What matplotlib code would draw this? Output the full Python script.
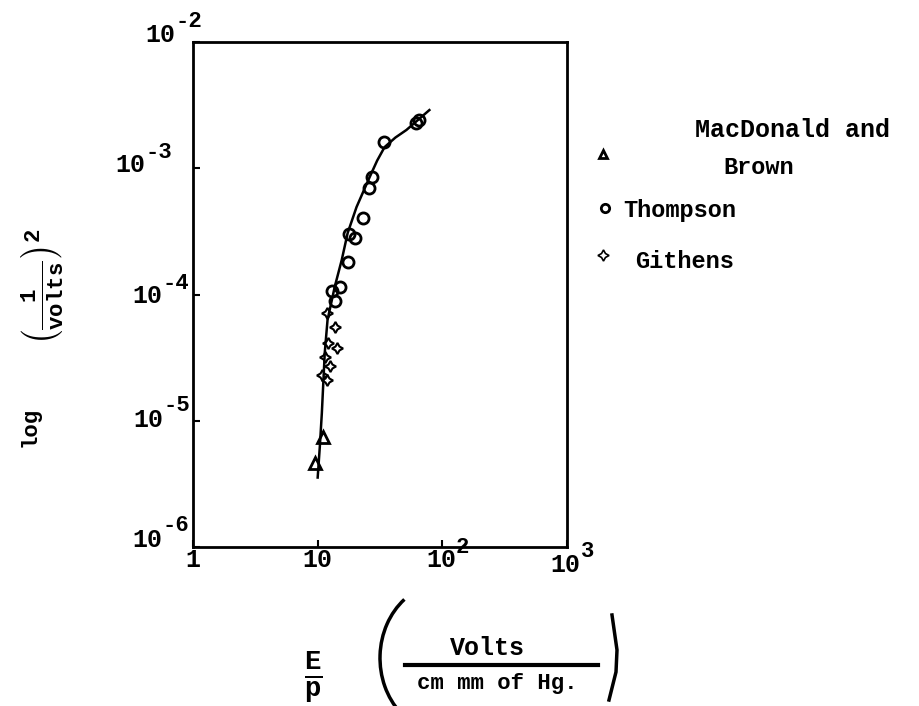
import matplotlib.pyplot as plt
import matplotlib.patches as mpatches

plt.rcParams['font.family'] = ['Liberation Mono', 'DejaVu Sans Mono']
plt.rcParams['font.weight'] = 'bold'
plt.rcParams['mathtext.fontset'] = 'custom'
plt.rcParams['mathtext.rm'] = 'Liberation Mono:bold'
plt.rcParams['mathtext.it'] = 'Liberation Mono:bold'
plt.rcParams['mathtext.bf'] = 'Liberation Mono:bold'

# values
thompson_x = [65, 62, 34, 27.5, 26, 23, 18, 19.8, 17.4, 13, 15, 13.7]
thompson_y = [2.4e-3, 2.3e-3, 1.6e-3, 8.5e-4, 7e-4, 4e-4, 3e-4, 2.8e-4, 1.8e-4, 1.07e-4, 1.14e-4, 8.9e-5]

githens_x = [11.8, 13.7, 12.0, 14.2, 11.4, 12.5, 10.8, 11.8]
githens_y = [7.1e-5, 5.5e-5, 4.1e-5, 3.8e-5, 3.2e-5, 2.7e-5, 2.3e-5, 2.1e-5]

brown_x = [11.0, 9.45]
brown_y = [7.4e-6, 4.6e-6]

# hand drawn curve
curve_x = [10.0, 10.4, 10.8, 11.4, 12.0, 13.7, 15.6, 17.4, 20.5, 26.1, 30.0, 34.4, 42.0, 51.5, 78.7]
curve_y = [3.55e-6, 6.2e-6, 1.15e-5, 3.47e-5, 6.3e-5, 1.15e-4, 1.88e-4, 3.07e-4, 4.93e-4,
           8.5e-4, 1.15e-3, 1.47e-3, 1.75e-3, 2.01e-3, 2.89e-3]

x_ticks = [1, 10, 100, 1000]
x_base = ['1', '10', '10', '10']
x_exp = ['', '', '2', '3']
y_ticks = [1e-6, 1e-5, 1e-4, 1e-3, 1e-2]
y_base = ['10', '10', '10', '10', '10']
y_exp = ['-6', '-5', '-4', '-3', '-2']

# where the typed labels sit, in pixels from the tick (right, up)
x_base_off = [(0, -13), (0, -13), (-1, -13), (-2, -18)]
x_exp_off = [(0, 0), (0, 0), (13, 0), (14, -4)]
y_base_off = [(-31, 7), (-30, 1), (-31, -1), (-48, 3), (-18, 7)]
y_exp_off = [(-31, 22), (-30, 15), (-31, 11), (-48, 16), (-18, 21)]

fig = plt.figure(figsize=(9.2, 7.06), dpi=100)
ax = fig.add_axes([0.2098, 0.2252, 0.4065, 0.7153])
ax.set_xscale('log')
ax.set_yscale('log')
ax.set_xlim(1, 1000)
ax.set_ylim(1e-6, 1e-2)

ax.plot(curve_x, curve_y, color='black', lw=1.8)
ax.plot(thompson_x, thompson_y, 'o', ms=8, mfc='none', mec='black', mew=2)
ax.plot(githens_x, githens_y, marker=(4, 1, 0), ls='none', ms=8, mfc='none', mec='black', mew=1.5)
ax.plot(brown_x, brown_y, '^', ms=8, mfc='none', mec='black', mew=2)

ax.set_xticks(x_ticks)
ax.set_yticks(y_ticks)
ax.minorticks_off()
ax.tick_params(direction='in', length=5, width=1.5, labelleft=False, labelbottom=False)
for s in ax.spines.values():
    s.set_linewidth(2)

px = 0.72  # points per pixel at 100 dpi
tx = ax.get_xaxis_transform()
ty = ax.get_yaxis_transform()
for t, b, e, bo, eo in zip(x_ticks, x_base, x_exp, x_base_off, x_exp_off):
    ax.annotate(b, xy=(t, 0), xycoords=tx, xytext=(bo[0] * px, bo[1] * px), textcoords='offset points',
                ha='center', va='center', fontsize=18, annotation_clip=False)
    if e:
        ax.annotate(e, xy=(t, 0), xycoords=tx, xytext=(eo[0] * px, eo[1] * px), textcoords='offset points',
                    ha='left', va='center', fontsize=16, annotation_clip=False)
for t, b, e, bo, eo in zip(y_ticks, y_base, y_exp, y_base_off, y_exp_off):
    ax.annotate(b, xy=(0, t), xycoords=ty, xytext=(bo[0] * px, bo[1] * px), textcoords='offset points',
                ha='right', va='center', fontsize=18, annotation_clip=False)
    ax.annotate(e, xy=(0, t), xycoords=ty, xytext=(eo[0] * px, eo[1] * px), textcoords='offset points',
                ha='left', va='center', fontsize=16, annotation_clip=False)

# legend, typed beside the chart
fig.text(695 / 920, 1 - 130 / 706, 'MacDonald and', fontsize=18, va='center')
fig.text(723 / 920, 1 - 168 / 706, 'Brown', fontsize=17, va='center')
fig.text(623 / 920, 1 - 210 / 706, 'Thompson', fontsize=17, va='center')
fig.text(635 / 920, 1 - 262 / 706, 'Githens', fontsize=17, va='center')
fig.lines.append(plt.Line2D([603 / 920], [1 - 154 / 706], marker='^', ms=6, mfc='none', mec='black', mew=2,
                            transform=fig.transFigure))
fig.lines.append(plt.Line2D([605 / 920], [1 - 208 / 706], marker='o', ms=6, mfc='none', mec='black', mew=2,
                            transform=fig.transFigure))
fig.lines.append(plt.Line2D([603 / 920], [1 - 255 / 706], marker=(4, 1, 0), ms=8, mfc='none', mec='black',
                            mew=1.2, transform=fig.transFigure))

# y label: log (1/volts)^2
fig.text(30 / 920, 1 - 427 / 706, 'log', rotation=90, fontsize=16, ha='center', va='center')
fig.text(42 / 920, 1 - 287 / 706, r'$\mathbf{\left(\frac{1}{volts}\right)^{2}}$', rotation=90,
         fontsize=23, ha='center', va='center')

# x label: E/p (Volts / cm mm of Hg.)
fig.text(313 / 920, 1 - 677 / 706, r'$\mathbf{\frac{E}{p}}$', fontsize=28, ha='center', va='center')
fig.text(487 / 920, 1 - 648 / 706, 'Volts', fontsize=18, ha='center', va='center')
fig.text(497 / 920, 1 - 684 / 706, 'cm mm of Hg.', fontsize=16, ha='center', va='center')
fig.lines.append(plt.Line2D([405 / 920, 598 / 920], [1 - 665 / 706, 1 - 665 / 706], color='black', lw=3,
                            transform=fig.transFigure))
fig.patches.append(mpatches.Arc((445 / 920, 1 - 658 / 706), 130 / 920, 150 / 706, theta1=118, theta2=238,
                                lw=2.5, color='black', transform=fig.transFigure))
fig.lines.append(plt.Line2D([609 / 920, 616 / 920, 617 / 920, 612 / 920],
                            [1 - 700 / 706, 1 - 672 / 706, 1 - 650 / 706, 1 - 615 / 706],
                            color='black', lw=2.5, transform=fig.transFigure))

fig.savefig('out.png', dpi=100, facecolor='white')
